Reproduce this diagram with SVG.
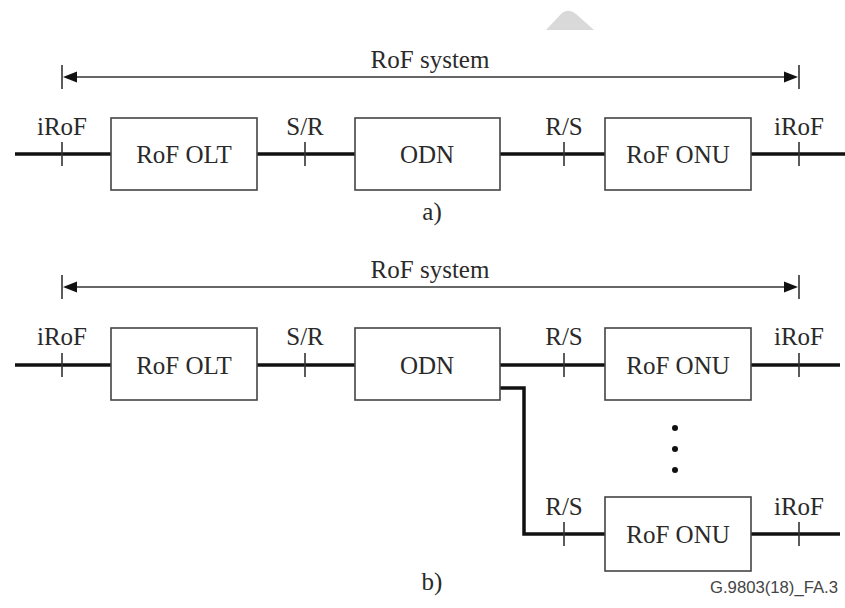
<svg xmlns="http://www.w3.org/2000/svg" width="845" height="608" viewBox="0 0 845 608">
<style>
.t{font-family:"Liberation Serif","Times New Roman",serif;font-size:25px;fill:#2a2a2a;text-anchor:middle}
.box{fill:#fff;stroke:#444;stroke-width:1.6}
.ln{stroke:#111;stroke-width:3.5;fill:none}
.tk{stroke:#333;stroke-width:1.6}
.dim{stroke:#666;stroke-width:2;fill:none}
.ah{fill:#111}
</style>
<rect width="845" height="608" fill="#fff"/>
<path d="M546 30 L594 30 L576 14 Q569 8 562 13 Z" fill="#d9d9d9"/>
<g id="connectors">
  <!-- a) -->
  <line class="dim" x1="66" y1="77" x2="795" y2="77"/>
  <line class="tk" x1="62" y1="65" x2="62" y2="89"/>
  <line class="tk" x1="799" y1="65" x2="799" y2="89"/>
  <polygon class="ah" points="63,77 77,71.5 77,82.5"/>
  <polygon class="ah" points="798,77 784,71.5 784,82.5"/>
  <line class="ln" x1="15" y1="154" x2="111" y2="154"/>
  <line class="ln" x1="257" y1="154" x2="355" y2="154"/>
  <line class="ln" x1="500" y1="154" x2="605" y2="154"/>
  <line class="ln" x1="751" y1="154" x2="845" y2="154"/>
  <line class="tk" x1="62" y1="142" x2="62" y2="166"/>
  <line class="tk" x1="305" y1="142" x2="305" y2="166"/>
  <line class="tk" x1="564" y1="142" x2="564" y2="166"/>
  <line class="tk" x1="799" y1="142" x2="799" y2="166"/>
  <!-- b) -->
  <line class="dim" x1="66" y1="287" x2="795" y2="287"/>
  <line class="tk" x1="62" y1="275" x2="62" y2="299"/>
  <line class="tk" x1="799" y1="275" x2="799" y2="299"/>
  <polygon class="ah" points="63,287 77,281.5 77,292.5"/>
  <polygon class="ah" points="798,287 784,281.5 784,292.5"/>
  <line class="ln" x1="15" y1="365" x2="111" y2="365"/>
  <line class="ln" x1="257" y1="365" x2="355" y2="365"/>
  <line class="ln" x1="500" y1="365" x2="605" y2="365"/>
  <line class="ln" x1="751" y1="365" x2="840" y2="365"/>
  <polyline class="ln" points="500,388 524,388 524,534 605,534"/>
  <line class="ln" x1="751" y1="534" x2="840" y2="534"/>
  <line class="tk" x1="62" y1="353" x2="62" y2="377"/>
  <line class="tk" x1="305" y1="353" x2="305" y2="377"/>
  <line class="tk" x1="564" y1="353" x2="564" y2="377"/>
  <line class="tk" x1="799" y1="353" x2="799" y2="377"/>
  <line class="tk" x1="564" y1="522" x2="564" y2="546"/>
  <line class="tk" x1="799" y1="522" x2="799" y2="546"/>
</g>
<g id="a-olt"><rect class="box" x="111" y="118" width="146" height="72"/><text class="t" x="184" y="163">RoF OLT</text></g>
<g id="a-odn"><rect class="box" x="355" y="118" width="145" height="72"/><text class="t" x="427" y="163">ODN</text></g>
<g id="a-onu"><rect class="box" x="605" y="118" width="146" height="72"/><text class="t" x="678" y="163">RoF ONU</text></g>
<g id="b-olt"><rect class="box" x="111" y="328" width="146" height="72"/><text class="t" x="184" y="374">RoF OLT</text></g>
<g id="b-odn"><rect class="box" x="355" y="328" width="145" height="72"/><text class="t" x="427" y="374">ODN</text></g>
<g id="b-onu1"><rect class="box" x="605" y="328" width="146" height="72"/><text class="t" x="678" y="374">RoF ONU</text></g>
<g id="b-onu2"><rect class="box" x="605" y="497" width="146" height="74"/><text class="t" x="678" y="543">RoF ONU</text></g>
<g id="dots" fill="#111"><circle cx="675" cy="428" r="3"/><circle cx="675" cy="449" r="3"/><circle cx="675" cy="470" r="3"/></g>
<g id="labels">
  <text class="t" x="430" y="68">RoF system</text>
  <text class="t" x="62" y="135">iRoF</text>
  <text class="t" x="305" y="135">S/R</text>
  <text class="t" x="564" y="135">R/S</text>
  <text class="t" x="799" y="135">iRoF</text>
  <text class="t" x="432" y="220">a)</text>
  <text class="t" x="430" y="278">RoF system</text>
  <text class="t" x="62" y="345">iRoF</text>
  <text class="t" x="305" y="345">S/R</text>
  <text class="t" x="564" y="345">R/S</text>
  <text class="t" x="799" y="345">iRoF</text>
  <text class="t" x="564" y="515">R/S</text>
  <text class="t" x="799" y="515">iRoF</text>
  <text class="t" x="432" y="590">b)</text>
  <text x="838" y="593" font-family="Liberation Sans,Arial,sans-serif" font-size="17" fill="#444" text-anchor="end" textLength="128" lengthAdjust="spacingAndGlyphs">G.9803(18)_FA.3</text>
</g>
</svg>
